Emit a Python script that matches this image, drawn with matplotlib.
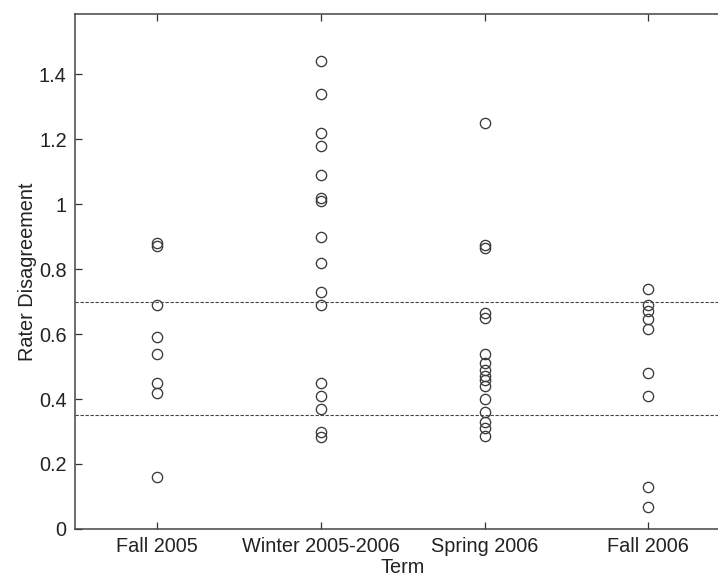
import matplotlib
matplotlib.use("Agg")
from matplotlib import pyplot as plt
from matplotlib.ticker import FormatStrFormatter

plt.rcParams['font.family'] = ['Liberation Sans', 'DejaVu Sans']

# terms on the x axis
terms = ["Fall 2005", "Winter 2005-2006", "Spring 2006", "Fall 2006"]

# rater disagreement per term
fall_2005 = [0.88, 0.87, 0.69, 0.59, 0.54, 0.45, 0.42, 0.16]
winter_2005_2006 = [1.44, 1.34, 1.22, 1.18, 1.09, 1.02, 1.01, 0.90, 0.82,
                    0.73, 0.69, 0.45, 0.41, 0.37, 0.30, 0.283]
spring_2006 = [1.25, 0.875, 0.865, 0.665, 0.65, 0.54, 0.51, 0.49, 0.47,
               0.46, 0.44, 0.40, 0.36, 0.33, 0.31, 0.285]
fall_2006 = [0.74, 0.69, 0.67, 0.645, 0.615, 0.48, 0.41, 0.13, 0.068]

# reference levels
thresholds = [0.70, 0.35]

series = [fall_2005, winter_2005_2006, spring_2006, fall_2006]

fig = plt.figure(figsize=(7.18, 5.79), dpi=100)
ax = fig.add_axes([0.1045, 0.0864, 0.9125, 0.8894])

for i, values in enumerate(series):
    ax.plot([i + 1] * len(values), values, linestyle='none', marker='o',
            markersize=7.4, markerfacecolor='none', markeredgecolor='#3a3a3a',
            markeredgewidth=0.95)

for level in thresholds:
    ax.axhline(level, color='#444444', linestyle=(0, (3, 1.5)), linewidth=0.8)

ax.set_xlim(0.5, 4.5)
ax.set_ylim(0, 1.585)
ax.set_xticks(range(1, len(terms) + 1))
ax.set_xticklabels(terms)
ax.set_yticks([0, 0.2, 0.4, 0.6, 0.8, 1.0, 1.2, 1.4])
ax.yaxis.set_major_formatter(FormatStrFormatter('%g'))

ax.tick_params(direction='in', length=5, width=0.9, colors='#333333',
               labelsize=14.3, top=True, right=True, pad=5)
ax.tick_params(axis='x', labelcolor='#222222', pad=5.5)
ax.tick_params(axis='y', labelcolor='#222222', pad=6)
for spine in ax.spines.values():
    spine.set_color('#444444')
    spine.set_linewidth(1.1)

ax.set_xlabel("Term", fontsize=14.3, color='#222222', labelpad=1.5)
ax.set_ylabel("Rater Disagreement", fontsize=14.3, color='#222222', labelpad=1.5)

fig.savefig("out.png", dpi=100)
